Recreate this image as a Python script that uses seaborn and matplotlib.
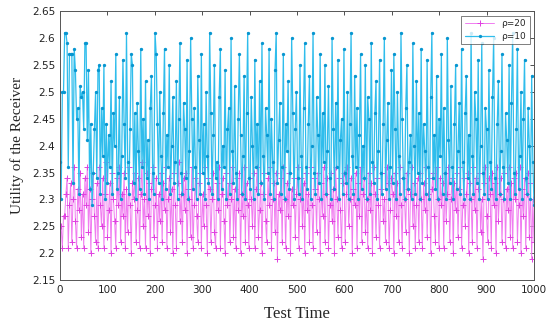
import numpy as np
import pandas as pd
import matplotlib
matplotlib.use("Agg")
import matplotlib.pyplot as plt
import seaborn as sns

rho10 = [2.37, 2.30, 2.50, 2.50, 2.61, 2.61, 2.59, 2.36, 2.57, 2.57, 2.57, 2.33, 2.58, 2.54, 2.45, 2.47, 2.31, 2.51, 2.49, 2.50,
         2.43, 2.59, 2.59, 2.41, 2.54, 2.32, 2.44, 2.29, 2.35, 2.43, 2.50, 2.34, 2.54, 2.55, 2.31, 2.47, 2.38, 2.55, 2.30, 2.44,
         2.33, 2.42, 2.36, 2.52, 2.31, 2.46, 2.40, 2.57, 2.32, 2.35, 2.49, 2.30, 2.38, 2.56, 2.44, 2.34, 2.61, 2.37, 2.31, 2.43,
         2.57, 2.55, 2.33, 2.46, 2.30, 2.48, 2.39, 2.32, 2.58, 2.36, 2.45, 2.31, 2.52, 2.34, 2.41, 2.30, 2.47, 2.53, 2.35, 2.31,
         2.61, 2.57, 2.44, 2.33, 2.50, 2.38, 2.30, 2.46, 2.58, 2.32, 2.42, 2.36, 2.55, 2.31, 2.40, 2.49, 2.33, 2.37, 2.52, 2.30,
         2.45, 2.59, 2.35, 2.31, 2.48, 2.43, 2.34, 2.56, 2.30, 2.39, 2.60, 2.45, 2.32, 2.47, 2.36, 2.30, 2.53, 2.41, 2.31, 2.57,
         2.35, 2.44, 2.30, 2.50, 2.38, 2.33, 2.61, 2.46, 2.31, 2.42, 2.55, 2.34, 2.37, 2.30, 2.49, 2.58, 2.32, 2.40, 2.36, 2.54,
         2.30, 2.43, 2.47, 2.31, 2.60, 2.39, 2.33, 2.51, 2.35, 2.30, 2.45, 2.57, 2.42, 2.31, 2.38, 2.53, 2.30, 2.46, 2.61, 2.34,
         2.32, 2.49, 2.40, 2.30, 2.56, 2.36, 2.44, 2.31, 2.52, 2.33, 2.59, 2.38, 2.30, 2.47, 2.42, 2.35, 2.58, 2.31, 2.45, 2.37,
         2.30, 2.54, 2.61, 2.33, 2.41, 2.48, 2.31, 2.36, 2.57, 2.30, 2.44, 2.39, 2.52, 2.32, 2.35, 2.60, 2.46, 2.30, 2.43, 2.50,
         2.34, 2.31, 2.55, 2.38, 2.30, 2.47, 2.59, 2.36, 2.32, 2.44, 2.53, 2.30, 2.40, 2.61, 2.35, 2.31, 2.49, 2.42, 2.33, 2.57,
         2.30, 2.46, 2.37, 2.55, 2.31, 2.39, 2.51, 2.34, 2.30, 2.60, 2.43, 2.32, 2.48, 2.36, 2.56, 2.30, 2.41, 2.45, 2.31, 2.58,
         2.35, 2.33, 2.50, 2.30, 2.44, 2.61, 2.38, 2.31, 2.53, 2.36, 2.47, 2.30, 2.42, 2.57, 2.32, 2.40, 2.34, 2.55, 2.30, 2.49,
         2.45, 2.31, 2.59, 2.37, 2.33, 2.46, 2.52, 2.30, 2.39, 2.56, 2.35, 2.31, 2.44, 2.60, 2.32, 2.41, 2.48, 2.30, 2.36, 2.54,
         2.33, 2.57, 2.43, 2.30, 2.50, 2.38, 2.31, 2.61, 2.45, 2.34, 2.30, 2.47, 2.55, 2.32, 2.37, 2.42, 2.30, 2.59, 2.40, 2.31,
         2.52, 2.35, 2.46, 2.30, 2.58, 2.33, 2.44, 2.39, 2.31, 2.56, 2.36, 2.30, 2.49, 2.61, 2.34, 2.42, 2.32, 2.53, 2.30, 2.45,
         2.38, 2.57, 2.31, 2.47, 2.35, 2.30, 2.60, 2.41, 2.33, 2.51, 2.36, 2.30, 2.44, 2.55, 2.32, 2.39, 2.48, 2.31, 2.58, 2.37,
         2.30, 2.46, 2.53, 2.34, 2.42, 2.30, 2.61, 2.38, 2.31, 2.50, 2.45, 2.33, 2.56, 2.30, 2.40, 2.59, 2.35, 2.31, 2.47, 2.43,
         2.30, 2.54, 2.37, 2.32, 2.49, 2.60, 2.34, 2.30, 2.44, 2.52, 2.31, 2.39, 2.57, 2.36, 2.30, 2.46, 2.41, 2.33, 2.55, 2.30,
         2.48, 2.61, 2.35, 2.31, 2.43, 2.58, 2.32, 2.38, 2.50, 2.30, 2.45, 2.56, 2.34, 2.31, 2.47, 2.40, 2.30, 2.53, 2.37, 2.29]

rho20 = [2.25, 2.25, 2.21, 2.27, 2.27, 2.31, 2.34, 2.21, 2.29, 2.33, 2.22, 2.30, 2.36, 2.26, 2.21, 2.32, 2.28, 2.35, 2.23, 2.31,
         2.21, 2.34, 2.29, 2.36, 2.24, 2.32, 2.20, 2.30, 2.35, 2.27, 2.22, 2.33, 2.21, 2.36, 2.29, 2.25, 2.34, 2.21, 2.31, 2.37,
         2.23, 2.28, 2.33, 2.20, 2.35, 2.30, 2.26, 2.21, 2.34, 2.29, 2.36, 2.22, 2.31, 2.27, 2.35, 2.21, 2.32, 2.24, 2.36, 2.29,
         2.20, 2.33, 2.30, 2.35, 2.22, 2.28, 2.34, 2.21, 2.31, 2.37, 2.25, 2.30, 2.21, 2.35, 2.27, 2.33, 2.20, 2.32, 2.36, 2.23,
         2.29, 2.34, 2.21, 2.31, 2.26, 2.35, 2.22, 2.33, 2.28, 2.36, 2.21, 2.30, 2.34, 2.24, 2.32, 2.20, 2.35, 2.29, 2.21, 2.33,
         2.37, 2.26, 2.31, 2.22, 2.34, 2.28, 2.35, 2.20, 2.32, 2.30, 2.23, 2.36, 2.21, 2.29, 2.34, 2.27, 2.22, 2.33, 2.35, 2.21,
         2.31, 2.25, 2.36, 2.29, 2.20, 2.34, 2.32, 2.22, 2.30, 2.35, 2.24, 2.21, 2.33, 2.28, 2.36, 2.21, 2.31, 2.34, 2.26, 2.20,
         2.35, 2.29, 2.33, 2.22, 2.30, 2.36, 2.23, 2.32, 2.21, 2.34, 2.28, 2.35, 2.20, 2.31, 2.27, 2.36, 2.22, 2.33, 2.29, 2.21,
         2.34, 2.30, 2.25, 2.35, 2.21, 2.32, 2.36, 2.23, 2.28, 2.33, 2.20, 2.31, 2.35, 2.26, 2.22, 2.34, 2.29, 2.36, 2.21, 2.30,
         2.33, 2.24, 2.35, 2.19, 2.31, 2.28, 2.34, 2.22, 2.36, 2.30, 2.21, 2.33, 2.27, 2.35, 2.20, 2.32, 2.29, 2.34, 2.23, 2.31,
         2.36, 2.21, 2.30, 2.34, 2.25, 2.33, 2.20, 2.35, 2.28, 2.31, 2.22, 2.36, 2.29, 2.21, 2.34, 2.32, 2.24, 2.35, 2.30, 2.20,
         2.33, 2.27, 2.36, 2.22, 2.31, 2.34, 2.21, 2.29, 2.35, 2.26, 2.32, 2.20, 2.36, 2.30, 2.23, 2.34, 2.28, 2.21, 2.33, 2.35,
         2.22, 2.31, 2.36, 2.25, 2.30, 2.34, 2.20, 2.32, 2.29, 2.35, 2.21, 2.33, 2.27, 2.36, 2.22, 2.31, 2.34, 2.24, 2.30, 2.21,
         2.35, 2.28, 2.33, 2.20, 2.36, 2.31, 2.23, 2.34, 2.29, 2.21, 2.32, 2.35, 2.26, 2.30, 2.22, 2.36, 2.33, 2.21, 2.28, 2.34,
         2.31, 2.20, 2.35, 2.27, 2.33, 2.22, 2.36, 2.29, 2.21, 2.34, 2.30, 2.24, 2.35, 2.32, 2.20, 2.31, 2.36, 2.25, 2.33, 2.21,
         2.29, 2.34, 2.22, 2.35, 2.30, 2.21, 2.33, 2.28, 2.36, 2.23, 2.31, 2.34, 2.20, 2.32, 2.35, 2.27, 2.22, 2.36, 2.30, 2.21,
         2.34, 2.29, 2.33, 2.21, 2.35, 2.26, 2.31, 2.36, 2.22, 2.30, 2.34, 2.20, 2.33, 2.28, 2.35, 2.23, 2.32, 2.36, 2.21, 2.29,
         2.34, 2.25, 2.31, 2.35, 2.20, 2.33, 2.30, 2.22, 2.36, 2.28, 2.34, 2.21, 2.32, 2.35, 2.24, 2.30, 2.19, 2.33, 2.36, 2.27,
         2.22, 2.34, 2.31, 2.21, 2.35, 2.29, 2.33, 2.20, 2.36, 2.26, 2.31, 2.34, 2.22, 2.30, 2.35, 2.21, 2.32, 2.28, 2.36, 2.23,
         2.33, 2.21, 2.34, 2.30, 2.35, 2.22, 2.29, 2.36, 2.20, 2.32, 2.27, 2.34, 2.21, 2.31, 2.35, 2.23, 2.33, 2.19, 2.30, 2.22]

x_ticks = [0, 100, 200, 300, 400, 500, 600, 700, 800, 900, 1000]
y_ticks = [2.15, 2.2, 2.25, 2.3, 2.35, 2.4, 2.45, 2.5, 2.55, 2.6, 2.65]
labels = ["ρ=20", "ρ=10"]

t10 = np.linspace(0, 1000, len(rho10))
t20 = np.linspace(0, 1000, len(rho20))

sns.set_style("white")
fig = plt.figure(figsize=(5.5, 3.28), dpi=100)
ax = fig.add_axes([0.109, 0.146, 0.862, 0.820])

c20 = "#f07cf0"
c10 = "#2fbdec"
sns.lineplot(x=t20, y=rho20, ax=ax, color=c20, lw=0.7, alpha=1.0, marker="+",
             markersize=4.5, markeredgewidth=0.7, markeredgecolor="#e040e0", label=labels[0])
sns.lineplot(x=t10, y=rho10, ax=ax, color=c10, lw=0.9, alpha=1.0, marker="o",
             markersize=2.4, markeredgewidth=0, markerfacecolor="#0896d0", label=labels[1])

ax.set_xlim(0, 1000)
ax.set_ylim(2.15, 2.65)
ax.set_xticks(x_ticks)
ax.set_yticks(y_ticks)
ax.set_yticklabels([f"{v:g}" for v in y_ticks])
ax.tick_params(direction="in", length=3, width=0.6, labelsize=7.5, colors="#333333",
               top=True, right=True, labelcolor="#222222")
for s in ax.spines.values():
    s.set_color("#555555")
    s.set_linewidth(0.7)

ax.set_xlabel("Test Time", family="Liberation Serif", fontsize=12, labelpad=8)
ax.set_ylabel("Utility of the Receiver", family="Liberation Serif", fontsize=11, labelpad=6)

leg = ax.legend(loc="upper right", fontsize=6.5, frameon=True, fancybox=False,
                edgecolor="#444444", handlelength=3.2, borderpad=0.4, labelspacing=0.4)
leg.get_frame().set_linewidth(0.6)

fig.savefig("out.png", dpi=100)
